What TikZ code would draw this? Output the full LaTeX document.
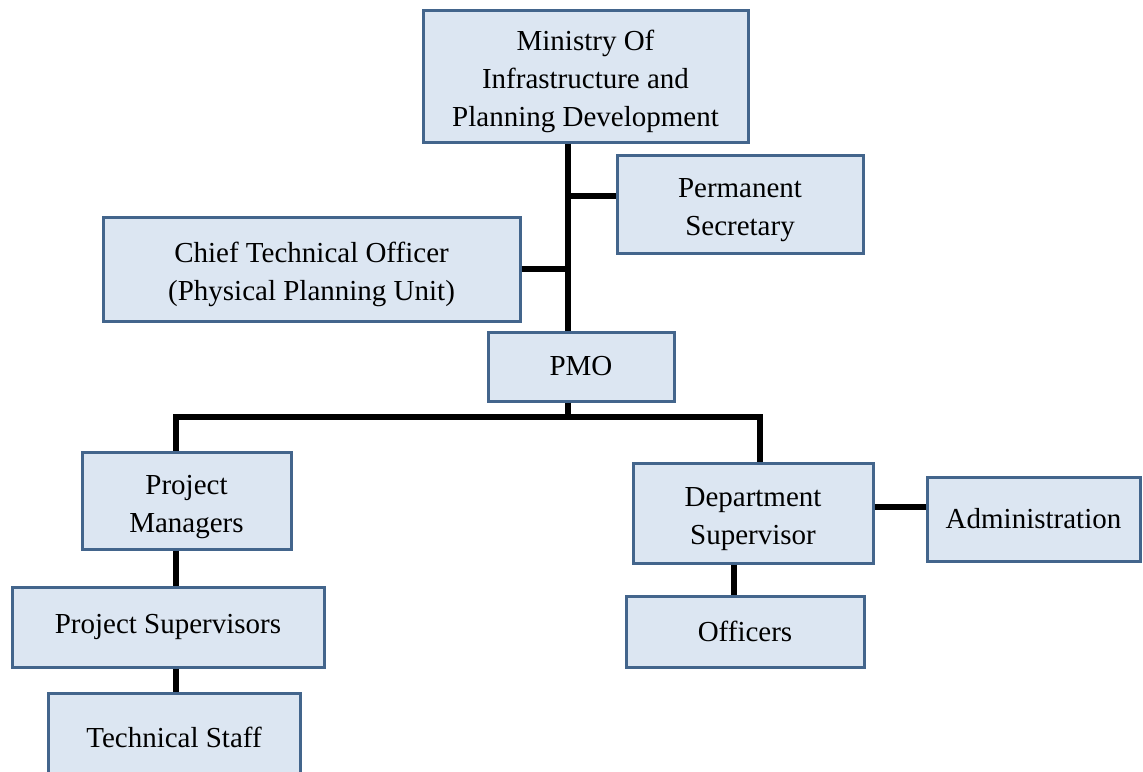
\documentclass[tikz,border=0pt]{standalone}
\usepackage{fontspec}
\setmainfont{Liberation Serif}
\definecolor{boxfill}{HTML}{DCE6F2}
\definecolor{boxline}{HTML}{43658C}
% taller first line, so that text of two or three lines sits a bit lower
\newcommand{\topgap}{\rule{0pt}{16pt}}
\tikzset{
  orgbox/.style={draw=boxline, fill=boxfill, line width=1.5pt, align=center,
    inner sep=0pt, font=\fontsize{14.5}{19}\selectfont},
  link/.style={line width=2.8pt, black}
}
\begin{document}
\begin{tikzpicture}[x=0.5pt, y=-0.5pt]
            \clip (0,0) rectangle (1143,771);
            % units of the chart
            \node[orgbox, minimum width=162.5pt, minimum height=66pt] (ministry) at (585.5,76) {\topgap Ministry Of\\Infrastructure and\\Planning Development};
            \node[orgbox, minimum width=123pt, minimum height=49pt] (permsec) at (740,204) {\topgap Permanent\\Secretary};
            \node[orgbox, minimum width=208.5pt, minimum height=52pt] (cto) at (311.5,269) {\topgap Chief Technical Officer\\(Physical Planning Unit)};
            \node[orgbox, minimum width=93pt, minimum height=34.5pt] (pmo) at (581,366.5) {PMO};
            \node[orgbox, minimum width=104.5pt, minimum height=48.5pt] (projman) at (186.5,500.5) {\topgap Project\\Managers};
            \node[orgbox, minimum width=120pt, minimum height=50pt] (deptsup) at (753,513) {\topgap Department\\Supervisor};
            \node[orgbox, minimum width=106.5pt, minimum height=42pt] (admin) at (1033.5,519) {Administration};
            \node[orgbox, minimum width=156pt, minimum height=40pt] (projsup) at (168,627) {Project Supervisors};
            \node[orgbox, minimum width=119pt, minimum height=35.5pt] (officers) at (745,631.5) {Officers};
            \node[orgbox, minimum width=126pt, minimum height=44pt] (techstaff) at (174,737) {Technical Staff};
            % where the lines run
            \coordinate (trunk) at (568,0);
            \coordinate (busL) at (176,417);
            \coordinate (busR) at (760,417);
            \coordinate (offtap) at (734,0);
            % reporting lines
            \draw[link] (ministry.south -| trunk) -- (pmo.north -| trunk);
            \draw[link] ([yshift=4pt]permsec.west) -- ([yshift=4pt]permsec.west -| trunk);
            \draw[link] (cto.east) -- (cto.east -| trunk);
            \draw[link] (pmo.south -| trunk) -- (trunk |- busL);
            \draw[link] (projman.north -| busL) -- (busL) -- (busR) -- (deptsup.north -| busR);
            \draw[link] (projman.south -| busL) -- (projsup.north -| busL);
            \draw[link] (projsup.south -| busL) -- (techstaff.north -| busL);
            \draw[link] (deptsup.south -| offtap) -- (officers.north -| offtap);
            \draw[link] ([yshift=3pt]deptsup.east) -- ([yshift=3pt]deptsup.east -| admin.west);
\end{tikzpicture}
\end{document}
